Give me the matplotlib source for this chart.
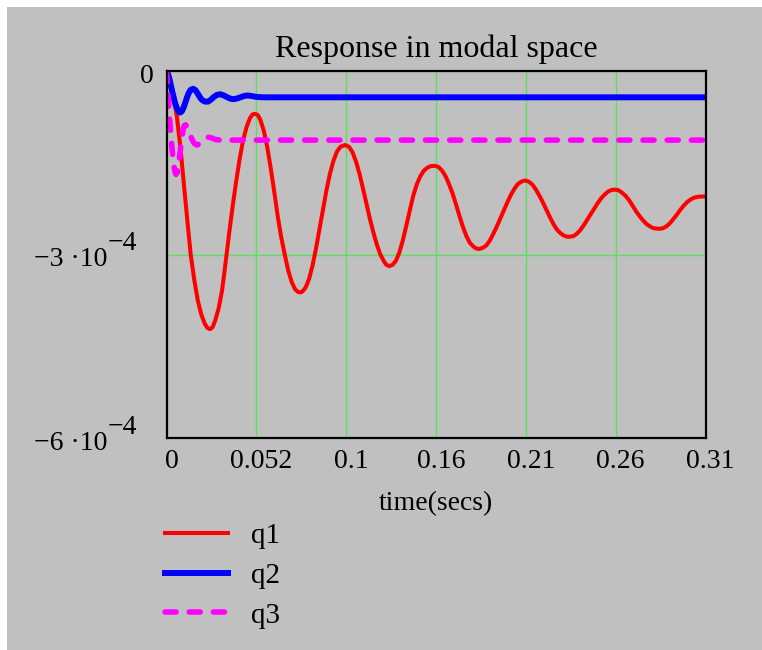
import numpy as np
import matplotlib
matplotlib.use('Agg')
import matplotlib.pyplot as plt
from matplotlib.patches import Rectangle
from matplotlib.transforms import ScaledTranslation

plt.rcParams['font.family'] = ['Liberation Serif', 'DejaVu Serif']

# values (q in units of 1e-4)
t1 = [0.0, 0.002, 0.004, 0.006, 0.008, 0.010, 0.012, 0.014, 0.016, 0.018, 0.020, 0.022, 0.0235,
      0.025, 0.0265, 0.028, 0.030, 0.032, 0.034, 0.036, 0.038, 0.040, 0.042, 0.044, 0.046, 0.048, 0.0495,
      0.0509, 0.0525, 0.054, 0.056, 0.058, 0.060, 0.062, 0.064, 0.066, 0.068, 0.070, 0.072, 0.074, 0.0755,
      0.0768, 0.078, 0.080, 0.082, 0.084, 0.086, 0.088, 0.090, 0.092, 0.094, 0.096, 0.098, 0.100,
      0.1027, 0.105, 0.107, 0.109, 0.111, 0.113, 0.115, 0.117, 0.119, 0.121, 0.123, 0.125, 0.1265,
      0.1281, 0.130, 0.132, 0.134, 0.136, 0.138, 0.140, 0.142, 0.144, 0.146, 0.148, 0.150, 0.152,
      0.1544, 0.1565, 0.1585, 0.1605, 0.1625, 0.1645, 0.1665, 0.1685, 0.1705, 0.1725, 0.1745, 0.1765, 0.178,
      0.1799, 0.182, 0.184, 0.186, 0.188, 0.190, 0.192, 0.194, 0.196, 0.198, 0.200, 0.202, 0.204,
      0.2062, 0.2085, 0.2105, 0.2125, 0.2145, 0.2165, 0.2185, 0.2205, 0.2225, 0.2245, 0.2265, 0.2285, 0.230,
      0.2317, 0.234, 0.236, 0.238, 0.240, 0.242, 0.244, 0.246, 0.248, 0.250, 0.252, 0.254, 0.256,
      0.258, 0.260, 0.262, 0.264, 0.266, 0.268, 0.270, 0.272, 0.274, 0.276, 0.278, 0.280,
      0.2834, 0.2855, 0.2875, 0.2895, 0.2915, 0.2935, 0.2955, 0.2975, 0.2995, 0.3015, 0.3035, 0.306, 0.310]
q1 = [0.00, -0.12, -0.42, -0.75, -1.25, -1.85, -2.45, -3.02, -3.42, -3.75, -3.98, -4.13, -4.20,
      -4.22, -4.19, -4.08, -3.88, -3.58, -3.13, -2.66, -2.22, -1.82, -1.45, -1.14, -0.92, -0.77, -0.71,
      -0.70, -0.72, -0.80, -0.98, -1.25, -1.60, -1.98, -2.38, -2.72, -3.00, -3.26, -3.45, -3.57, -3.61,
      -3.62, -3.61, -3.54, -3.40, -3.18, -2.90, -2.58, -2.25, -1.95, -1.68, -1.47, -1.32, -1.24,
      -1.21, -1.24, -1.33, -1.48, -1.68, -1.92, -2.17, -2.42, -2.64, -2.84, -3.00, -3.11, -3.17,
      -3.19, -3.17, -3.10, -2.96, -2.76, -2.52, -2.27, -2.03, -1.85, -1.72, -1.63, -1.58, -1.555,
      -1.55, -1.57, -1.63, -1.72, -1.85, -2.00, -2.18, -2.37, -2.55, -2.70, -2.81, -2.87, -2.90,
      -2.91, -2.89, -2.85, -2.77, -2.66, -2.54, -2.41, -2.28, -2.15, -2.03, -1.93, -1.85, -1.81,
      -1.79, -1.81, -1.86, -1.94, -2.04, -2.15, -2.27, -2.39, -2.50, -2.59, -2.65, -2.69, -2.705,
      -2.71, -2.70, -2.66, -2.60, -2.52, -2.43, -2.34, -2.25, -2.16, -2.08, -2.02, -1.97, -1.945,
      -1.94, -1.95, -1.99, -2.04, -2.11, -2.20, -2.29, -2.37, -2.44, -2.50, -2.54, -2.57,
      -2.58, -2.57, -2.54, -2.49, -2.42, -2.35, -2.27, -2.20, -2.14, -2.10, -2.07, -2.055, -2.05]

t2 = [0.0, 0.001, 0.002, 0.003, 0.004, 0.005, 0.006, 0.007, 0.0078, 0.0088, 0.0098, 0.0108,
      0.0118, 0.0128, 0.0138, 0.0153, 0.0165, 0.0178, 0.0190, 0.0203, 0.0220, 0.0239, 0.0255,
      0.0270, 0.0290, 0.0310, 0.0330, 0.0350, 0.0370, 0.0385, 0.0405, 0.0425, 0.0445, 0.0466,
      0.0490, 0.0520, 0.0560, 0.3100]
q2 = [0.00, -0.06, -0.17, -0.30, -0.42, -0.53, -0.61, -0.66, -0.68, -0.66, -0.60, -0.52,
      -0.43, -0.36, -0.31, -0.29, -0.31, -0.36, -0.42, -0.47, -0.50, -0.50, -0.47,
      -0.43, -0.39, -0.38, -0.40, -0.43, -0.455, -0.46, -0.45, -0.43, -0.41, -0.40,
      -0.41, -0.425, -0.43, -0.43]

t3 = [0.0, 0.0005, 0.001, 0.0015, 0.002, 0.0026, 0.0032, 0.0038, 0.0045, 0.005, 0.0055,
      0.0061, 0.0068, 0.0075, 0.0082, 0.0089, 0.0096, 0.0103, 0.0110, 0.0120, 0.0130,
      0.0140, 0.0150, 0.0162, 0.0175, 0.0190, 0.0205, 0.0220, 0.0235, 0.0255, 0.0280,
      0.0310, 0.3100]
q3 = [0.00, -0.22, -0.45, -0.66, -0.86, -1.07, -1.27, -1.44, -1.59, -1.66, -1.69,
      -1.66, -1.56, -1.41, -1.24, -1.08, -0.95, -0.89, -0.88, -0.92, -0.99,
      -1.07, -1.14, -1.19, -1.21, -1.19, -1.14, -1.10, -1.08, -1.09, -1.12,
      -1.13, -1.13]

x_tick_labels = ['0', '0.052', '0.1', '0.16', '0.21', '0.26', '0.31']
y_ticks = [-6e-4, -3e-4, 0.0]
y_tick_main = ['\u22126 \u00b710', '\u22123 \u00b710', '0']
y_tick_exp = ['\u22124', '\u22124', '']

gray = '#c0c0c0'
grid_green = '#5ae05a'

fig = plt.figure(figsize=(7.62, 6.5), dpi=100)
fig.patch.set_facecolor('white')
fig.add_artist(Rectangle((7 / 762, 0), 1, 643 / 650, transform=fig.transFigure,
                         facecolor=gray, edgecolor='none', zorder=-10))

ax = fig.add_axes([166.5 / 762, 212 / 650, 539 / 762, 367 / 650])
ax.set_facecolor('none')

ax.plot(t1, np.array(q1) * 1e-4, color='#ff0000', lw=2.9, label='q1',
        solid_joinstyle='round')
ax.plot(t2, np.array(q2) * 1e-4, color='#0000ff', lw=4.3, label='q2',
        solid_joinstyle='round')
l3, = ax.plot(t3, np.array(q3) * 1e-4, color='#ff00ff', lw=4.0, label='q3',
              dash_capstyle='round', dash_joinstyle='round')
l3.set_dashes([2.0, 2.35])

ax.set_xlim(0, 0.31)
ax.set_ylim(-6e-4, 0)
ax.set_xticks(np.linspace(0, 0.31, 7))
ax.set_xticklabels(x_tick_labels, fontsize=20)
ax.set_yticks(y_ticks)
ax.set_yticklabels([])
ax.tick_params(length=0)
ax.tick_params(axis='x', pad=8)
for lab in ax.get_xticklabels():
    lab.set_transform(lab.get_transform() + ScaledTranslation(0.05, 0, fig.dpi_scale_trans))

ax.set_axisbelow(True)
ax.grid(True, color=grid_green, lw=1.0)
for sp in ax.spines.values():
    sp.set_linewidth(1.6)
    sp.set_color('black')

# y labels in the Mathcad style: mantissa and a raised exponent
for val, main, ex in zip(y_ticks, y_tick_main, y_tick_exp):
    if ex:
        ax.annotate(main, xy=(0, val), xycoords=('axes fraction', 'data'),
                    xytext=(-42.5, -8.6), textcoords='offset points',
                    ha='right', va='baseline', fontsize=20)
        ax.annotate(ex, xy=(0, val), xycoords=('axes fraction', 'data'),
                    xytext=(-42.5, 2.9), textcoords='offset points',
                    ha='left', va='baseline', fontsize=20)
    else:
        ax.annotate(main, xy=(0, val), xycoords=('axes fraction', 'data'),
                    xytext=(-9, -8.6), textcoords='offset points',
                    ha='right', va='baseline', fontsize=20)

ax.set_title('Response in modal space', fontsize=23, pad=10)
ax.set_xlabel('time(secs)', fontsize=20, labelpad=12.5)

ax.legend(loc='upper left', bbox_to_anchor=(165 / 762, 0.1962),
          bbox_transform=fig.transFigure, frameon=False, fontsize=21,
          borderpad=0, borderaxespad=0, handlelength=2.16, handletextpad=0.79,
          labelspacing=0.46)

fig.savefig('out.png', dpi=100)
